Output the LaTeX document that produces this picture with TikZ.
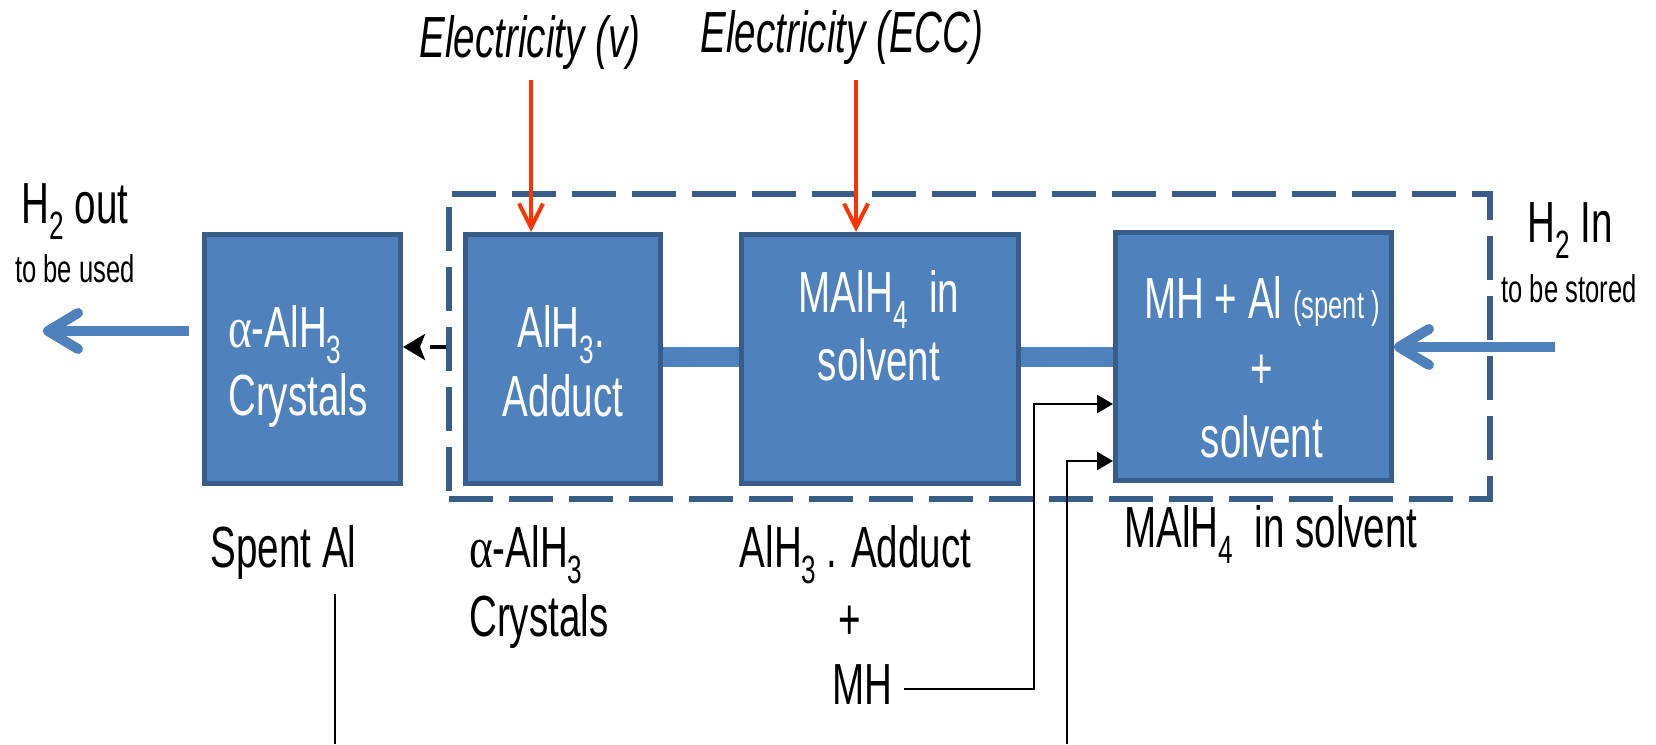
\documentclass[tikz,border=0pt]{standalone}
\usepackage{fontspec}
\setmainfont{Liberation Sans}[FakeStretch=0.665]
\newfontfamily\grk{Liberation Serif}[FakeStretch=0.78]
\usetikzlibrary{arrows.meta}
\definecolor{boxfill}{RGB}{79,129,189}
\definecolor{boxline}{RGB}{56,93,138}
\definecolor{elec}{RGB}{255,51,0}
\makeatletter
\newcommand\dn[1]{\raisebox{-0.28em}{\fontsize{\fpeval{0.68*\f@size}}{0}\selectfont #1}}
\makeatother
\newcommand\fbig{\fontsize{58}{68}\selectfont}
\newcommand\fsml{\fontsize{38.5}{46}\selectfont}
\begin{document}
\begin{tikzpicture}[x=1pt,y=-1pt,
  blk/.style={draw=boxline, fill=boxfill, line width=5pt, inner sep=0pt},
  wt/.style={text=white, font=\fbig, inner sep=0pt, anchor=base},
  lbl/.style={text=black, font=\fbig, inner sep=0pt, anchor=base},
  frm/.style={draw=boxline, line width=6pt, dash pattern=on 44pt off 16pt, inner sep=0pt},
  bar/.style={draw=boxfill, line width=20pt},
  bigarrow/.style={draw=boxfill, line width=10pt, -{Straight Barb[length=30pt,width=36pt,round]}},
  redarr/.style={draw=elec, line width=4pt, -{Straight Barb[length=24pt,width=24pt]}},
  dasharr/.style={draw=black, line width=4.5pt, dash pattern=on 16pt off 10pt, -{Stealth[length=22pt,width=26pt,inset=5pt]}},
  conn/.style={draw=black, line width=2.7pt},
  connarr/.style={conn, -{Triangle[length=16pt,width=18pt]}}]
\useasboundingbox (0,0) rectangle (1656,744);

% dashed frame
\node[frm, minimum width=1041pt, minimum height=305pt] (frame) at (969.5,346.5) {};

% boxes
\node[blk, minimum width=196pt, minimum height=249pt] (b1) at (302.5,359) {};
\node[blk, minimum width=195pt, minimum height=249pt] (b2) at (563,359) {};
\node[blk, minimum width=277pt, minimum height=249pt] (b3) at (880,359) {};
\node[blk, minimum width=276pt, minimum height=248pt] (b4) at (1253.5,356.5) {};

% bars
\coordinate (barY) at (0,357);
\draw[bar] (b2.east |- barY) -- (b3.west |- barY);
\draw[bar] (b3.east |- barY) -- (b4.west |- barY);

% box texts
\node[wt, anchor=base west] (t1a) at (228,347) {{\grk α}-AlH\dn{3}};
\node[wt, anchor=base west] (t1b) at (228,415) {Crystals};
\node[wt] (t2a) at (561,347) {AlH\dn{3}.};
\node[wt] (t2b) at (563,416) {Adduct};
\node[wt] (t3a) at (879,312) {MAlH\dn{4}\ \ in};
\node[wt] (t3b) at (879,380) {solvent};
\node[wt] (t4a) at (1262,318) {MH + Al {\fsml (spent )}};
\node[wt] (t4b) at (1262,388) {+};
\node[wt] (t4c) at (1262,457) {solvent};

% outside labels
\node[lbl] (h2o) at (75,223) {H\dn{2} out};
\node[lbl, font=\fsml] (h2ou) at (75,282) {to be used};
\node[lbl] (h2i) at (1570,242) {H\dn{2} In};
\node[lbl, font=\fsml] (h2iu) at (1569,302) {to be stored};
\node[lbl, font=\fbig\itshape] (ev) at (530,57) {Electricity (v)};
\node[lbl, font=\fbig\itshape] (ee) at (842,52) {Electricity (ECC)};
\node[lbl] (sal) at (283.5,567) {Spent Al};
\node[lbl, anchor=base west] (ca) at (469,567) {{\grk α}-AlH\dn{3}};
\node[lbl, anchor=base west] (cb) at (469,636) {Crystals};
\node[lbl] (aa) at (855.5,567) {AlH\dn{3}\,. Adduct};
\node[lbl] (ap) at (850,639) {+};
\node[lbl] (mh) at (862,704) {MH};
\node[lbl] (ms) at (1271,547) {MAlH\dn{4}\ \ in solvent};

% H2 arrows
\coordinate (oS) at (189,331);
\coordinate (oE) at (43,331);
\draw[bigarrow] (oS) -- (oE);
\coordinate (iS) at (1555,347);
\draw[bigarrow] (iS) -- (b4.east |- iS);

% electricity arrows
\coordinate (e1) at (531,80);
\draw[redarr] (e1) -- (e1 |- b2.north);
\coordinate (e2) at (856,80);
\draw[redarr] (e2) -- (e2 |- b3.north);

% dashed arrow to crystals
\coordinate (dY) at (0,347);
\draw[dasharr] (frame.west |- dY) -- (b1.east |- dY);

% feed lines
\coordinate (mhk) at (1034,404);
\draw[connarr] ([xshift=12pt,yshift=-5pt]mh.east) -| (mhk) -- (b4.west |- mhk);
\coordinate (s2) at (1067,744);
\coordinate (s2k) at (1067,461);
\draw[connarr] (s2) -- (s2k) -- (b4.west |- s2k);
\coordinate (sa1) at (335,594);
\coordinate (sa2) at (335,744);
\draw[conn] (sa1) -- (sa2);
\end{tikzpicture}
\end{document}
